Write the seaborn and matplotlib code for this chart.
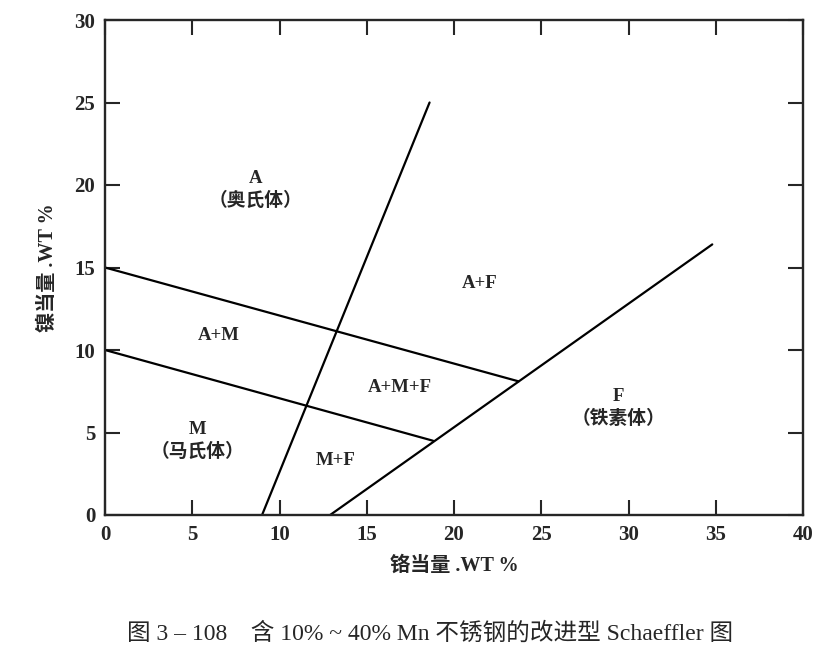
import matplotlib
matplotlib.use("Agg")
import matplotlib.pyplot as plt
import seaborn as sns
import pandas as pd

sns.set_style("ticks")
plt.rcParams['font.family'] = ['Liberation Serif', 'Noto Sans CJK SC', 'DejaVu Sans']

# 相界线端点 (铬当量, 镍当量)
boundary_names = ["A/M", "A+M上界", "M下界", "F界"]
boundary_x = [[9.0, 18.6], [0.0, 23.7], [0.0, 18.8], [12.9, 34.8]]
boundary_y = [[0.0, 25.0], [15.0, 8.1], [10.0, 4.5], [0.0, 16.4]]

# 区域标注
region_text = ["A\n（奥氏体）", "A+F", "A+M", "A+M+F", "M\n（马氏体）", "M+F", "F\n（铁素体）"]
region_x = [8.6, 21.5, 6.5, 16.9, 5.3, 13.2, 29.4]
region_y = [19.7, 14.0, 10.9, 7.7, 4.5, 3.3, 6.5]

rows = []
for name, xs, ys in zip(boundary_names, boundary_x, boundary_y):
    for x, y in zip(xs, ys):
        rows.append({"line": name, "x": x, "y": y})
df = pd.DataFrame(rows)

fig = plt.figure(figsize=(8.35, 6.61), dpi=100)
ax = fig.add_axes([105 / 835, 1 - 515 / 661, 698 / 835, 495 / 661])

sns.lineplot(data=df, x="x", y="y", hue="line", units="line", estimator=None, sort=False,
             palette=["black"] * len(boundary_names), linewidth=1.6, legend=False, ax=ax)

for t, x, y in zip(region_text, region_x, region_y):
    ax.text(x, y, t, ha="center", va="center", fontsize=13.5, fontweight="bold",
            linespacing=1.35)

ax.set_xlim(0, 40)
ax.set_ylim(0, 30)
ax.set_xticks(range(0, 41, 5))
ax.set_yticks(range(0, 31, 5))
ax.tick_params(direction="in", length=11, width=1.5, top=True, right=True,
               labelsize=15, pad=7)
for lab in ax.get_xticklabels() + ax.get_yticklabels():
    lab.set_fontweight("bold")
for s in ax.spines.values():
    s.set_linewidth(1.7)
    s.set_visible(True)

ax.set_xlabel("铬当量 .WT %", fontsize=14.5, fontweight="bold", labelpad=8)
ax.set_ylabel("镍当量 .WT %", fontsize=14.5, fontweight="bold", labelpad=12)

fig.text(0.515, 1 - 634 / 661, "图 3 – 108    含 10% ~ 40% Mn 不锈钢的改进型 Schaeffler 图",
         ha="center", va="center", fontsize=17)

fig.savefig("out.png", dpi=100)
